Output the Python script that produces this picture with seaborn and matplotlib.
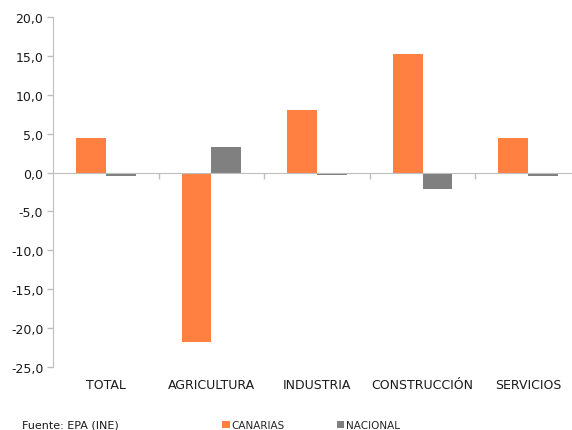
import matplotlib
matplotlib.use("Agg")
import matplotlib.pyplot as plt
import matplotlib.ticker as mticker
import pandas as pd
import seaborn as sns

# data
sectores = ["TOTAL", "AGRICULTURA", "INDUSTRIA", "CONSTRUCCIÓN", "SERVICIOS"]
canarias = [4.5, -21.8, 8.0, 15.3, 4.4]
nacional = [-0.4, 3.3, -0.3, -2.1, -0.5]
series = ["CANARIAS", "NACIONAL"]
colores = ["#FF8040", "#808080"]

df = pd.DataFrame({
    "sector": sectores * 2,
    "valor": canarias + nacional,
    "serie": [series[0]] * len(sectores) + [series[1]] * len(sectores),
})

sns.set_style("white")
plt.rcParams["font.family"] = ["DejaVu Sans"]

fig = plt.figure(figsize=(5.72, 4.31), dpi=100)
ax = fig.add_axes([53 / 572, 63 / 431, 528 / 572, 350 / 431])

sns.barplot(data=df, x="sector", y="valor", hue="serie", order=sectores,
            hue_order=series, palette=colores, width=0.566, gap=0,
            saturation=1, linewidth=0, ax=ax, legend=True)

axis_col = "#BFBFBF"
ax.set_xlim(-0.5, len(sectores) - 0.5)
ax.set_ylim(-25, 20)
ax.yaxis.set_major_locator(mticker.MultipleLocator(5))
ax.yaxis.set_major_formatter(mticker.FuncFormatter(lambda v, p: f"{v:.1f}".replace(".", ",")))
ax.tick_params(axis="y", left=True, direction="out", length=4, color=axis_col, width=1,
               labelsize=9, labelcolor="#1a1a1a", pad=3)
ax.set_xlabel("")
ax.set_ylabel("")

for s in ["top", "right"]:
    ax.spines[s].set_visible(False)
ax.spines["left"].set_color(axis_col)
ax.spines["bottom"].set_color(axis_col)
ax.spines["bottom"].set_position(("data", 0))
ax.spines["bottom"].set_zorder(3)

# separators between categories on the zero line
ax.set_xticks([i + 0.5 for i in range(len(sectores) - 1)])
ax.set_xticklabels([])
ax.tick_params(axis="x", bottom=True, direction="out", length=4, color=axis_col, width=1)

# category labels at the bottom
sec = ax.secondary_xaxis(0)
sec.set_xticks(range(len(sectores)))
sec.set_xticklabels(sectores)
sec.tick_params(length=0, labelsize=9, labelcolor="#1a1a1a", pad=8)
sec.spines["bottom"].set_visible(False)

handles, labels = ax.get_legend_handles_labels()
ax.get_legend().remove()
fig.legend(handles, labels, loc="center left", bbox_to_anchor=(217 / 572, 1 - 426 / 431),
           ncol=2, frameon=False, fontsize=7.5, handlelength=0.7, handleheight=0.7,
           handletextpad=0.2, columnspacing=5.0, borderpad=0)

fig.text(22 / 572, 1 - 426 / 431, "Fuente: EPA (INE)", fontsize=8,
         color="#1a1a1a", va="center", ha="left")

fig.savefig("out.png", dpi=100, facecolor="white")
